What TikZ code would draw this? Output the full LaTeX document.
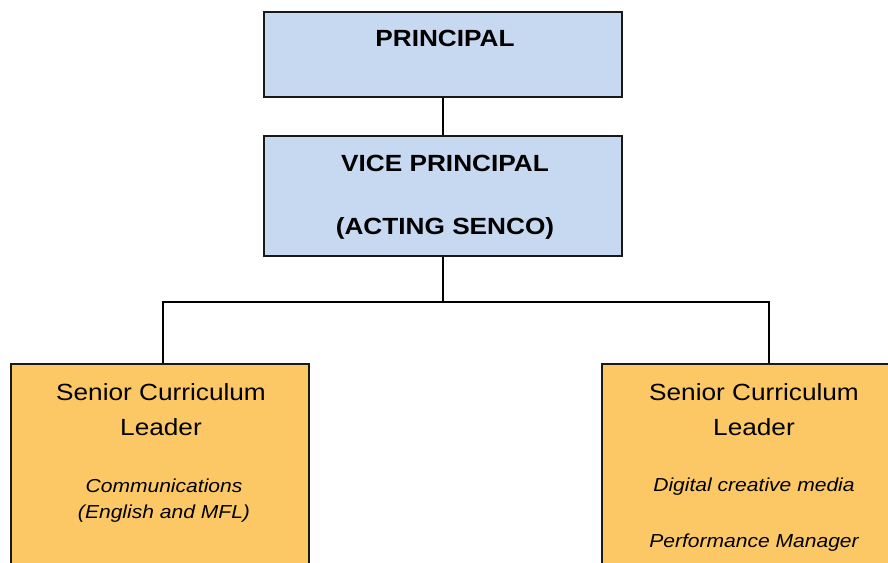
\documentclass[tikz,border=0pt]{standalone}
\usepackage{fontspec}
\setmainfont{Liberation Sans}[FakeStretch=1.12]
\usepackage{xcolor}
\usetikzlibrary{positioning}
\definecolor{headblue}{HTML}{C6D9F1}
\definecolor{leadorange}{HTML}{FCC865}

\begin{document}
\begin{tikzpicture}[
  x=1pt, y=-1pt,
  box/.style={draw=black!90, line width=1.4pt, inner sep=0pt},
  head/.style={box, fill=headblue, minimum width=358pt},
  lead/.style={box, fill=leadorange, minimum height=260pt},
  link/.style={draw=black, line width=2pt},
  caps/.style={anchor=base, inner sep=0pt, xshift=2pt, font=\fontsize{23.4}{28}\selectfont\bfseries},
  plain/.style={anchor=base, inner sep=0pt, font=\fontsize{23.4}{28}\selectfont},
  role/.style={anchor=base, inner sep=0pt, font=\fontsize{18.8}{22}\selectfont\itshape}
]
\path[use as bounding box, fill=white] (0,0) rectangle (888,562);
\clip (0,0) rectangle (888,562);

% top of the chart
\node[head, minimum height=85pt] (principal) at (443,54.5) {};
\node[caps] (principal-title) at ([yshift=-35pt]principal.north) {PRINCIPAL};

\node[head, minimum height=120pt] (vice) at (443,196) {};
\node[caps] (vice-title) at ([yshift=-36pt]vice.north) {VICE PRINCIPAL};
\node[caps] (vice-role) at ([yshift=-99pt]vice.north) {(ACTING SENCO)};

% curriculum leaders
\node[lead, minimum width=298pt] (left-lead) at (160,494) {};
\node[plain, xshift=1pt] (left-title) at ([yshift=-36.7pt]left-lead.north) {Senior Curriculum};
\node[plain, xshift=1pt] (left-leader) at ([yshift=-72pt]left-lead.north) {Leader};
\node[role, xshift=4pt] (left-area) at ([yshift=-129pt]left-lead.north) {Communications};
\node[role, xshift=4pt] (left-subjects) at ([yshift=-155.5pt]left-lead.north) {(English and MFL)};

\node[lead, minimum width=304pt] (right-lead) at (754,494) {};
\node[plain] (right-title) at ([yshift=-36.7pt]right-lead.north) {Senior Curriculum};
\node[plain] (right-leader) at ([yshift=-72pt]right-lead.north) {Leader};
\node[role] (right-area) at ([yshift=-128pt]right-lead.north) {Digital creative media};
\node[role] (right-duty) at ([yshift=-184pt]right-lead.north) {Performance Manager};

\coordinate (bus) at (442.5,301.5);
\draw[link] (principal.south -| bus) -- (vice.north -| bus);
\draw[link] (vice.south -| bus) -- (bus);
\draw[link] (bus) -| ([xshift=2.5pt]left-lead.north);
\draw[link] (bus) -| ([xshift=14.5pt]right-lead.north);
\end{tikzpicture}
\end{document}
